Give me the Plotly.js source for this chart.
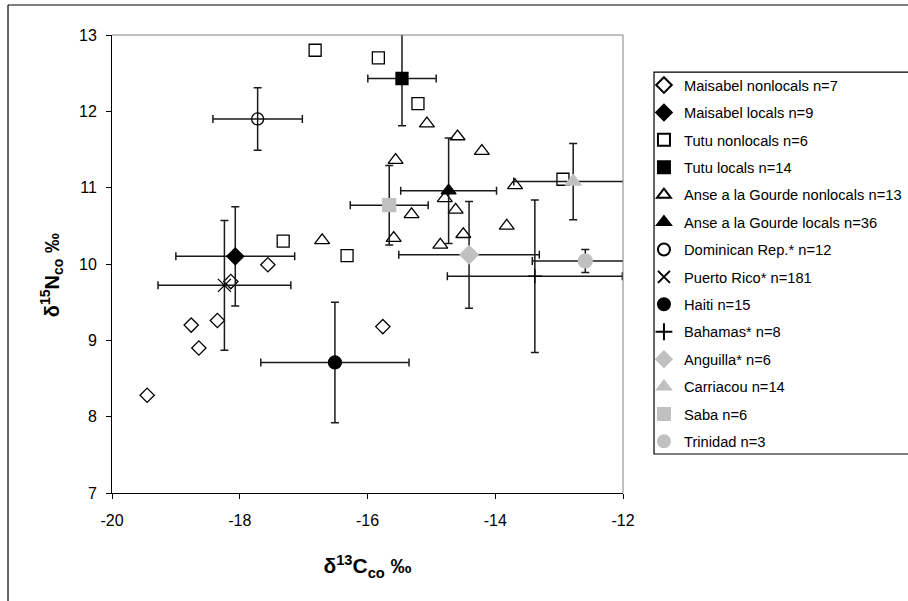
<!DOCTYPE html>
<html>
<head>
<meta charset="utf-8">
<script src="https://cdn.plot.ly/plotly-3.0.1.min.js"></script>
<style>html,body{margin:0;padding:0;background:#fff}#chart{width:908px;height:601px}</style>
</head>
<body>
<div id="chart"></div>
<script>
// ---- data (delta13C, delta15N) ----
const maisabelNonX = [-19.45, -18.76, -18.64, -18.35, -18.14, -17.56, -15.76];
const maisabelNonY = [8.28, 9.20, 8.90, 9.26, 9.77, 9.99, 9.18];

const tutuNonX = [-16.82, -15.83, -15.21, -12.94, -17.32, -16.32];
const tutuNonY = [12.80, 12.70, 12.10, 11.11, 10.30, 10.11];

const anseNonX = [-15.07, -14.59, -14.21, -15.56, -13.69, -14.79, -14.62, -15.31, -15.59, -14.50, -13.82, -14.86, -16.71];
const anseNonY = [11.84, 11.67, 11.48, 11.36, 11.03, 10.86, 10.71, 10.65, 10.34, 10.39, 10.50, 10.25, 10.31];

// group means with standard deviations
const maisabelLocX = [-18.07], maisabelLocY = [10.10], maisabelLocSdX = [0.93], maisabelLocSdY = [0.65];
const tutuLocX = [-15.46], tutuLocY = [12.43], tutuLocSdX = [0.535], tutuLocSdY = [0.62];
const anseLocX = [-14.73], anseLocY = [10.96], anseLocSdX = [0.75], anseLocSdY = [0.69];
const domRepX = [-17.72], domRepY = [11.90], domRepSdX = [0.70], domRepSdY = [0.41];
const puertoRicoX = [-18.24], puertoRicoY = [9.72], puertoRicoSdX = [1.04], puertoRicoSdY = [0.85];
const haitiX = [-16.51], haitiY = [8.71], haitiSdX = [1.16], haitiSdY = [0.79];
const bahamasX = [-13.38], bahamasY = [9.84], bahamasSdX = [1.37], bahamasSdY = [1.00];
const anguillaX = [-14.41], anguillaY = [10.12], anguillaSdX = [1.10], anguillaSdY = [0.70];
const carriacouX = [-12.78], carriacouY = [11.08], carriacouSdX = [0.93], carriacouSdY = [0.50];
const sabaX = [-15.66], sabaY = [10.77], sabaSdX = [0.61], sabaSdY = [0.52];
const trinidadX = [-12.59], trinidadY = [10.04], trinidadSdX = [0.83], trinidadSdY = [0.15];

const seriesNames = [
  'Maisabel nonlocals n=7', 'Maisabel locals n=9', 'Tutu nonlocals n=6', 'Tutu locals n=14',
  'Anse a la Gourde nonlocals n=13', 'Anse a la Gourde locals n=36', 'Dominican Rep.* n=12',
  'Puerto Rico* n=181', 'Haiti n=15', 'Bahamas* n=8', 'Anguilla* n=6', 'Carriacou n=14',
  'Saba n=6', 'Trinidad n=3'
];

// tick labels (hyphen-minus as in the original)
const xTickVals = [-20, -18, -16, -14, -12];
const xTickText = ['-20', '-18', '-16', '-14', '-12'];
const yTickVals = [7, 8, 9, 10, 11, 12, 13];
const yTickText = ['7', '8', '9', '10', '11', '12', '13'];

const BLACK = '#000000', GRAY = '#c0c0c0', ERR = '#1a1a1a';

function errs(sdx, sdy) {
  return {
    error_x: {type: 'data', array: sdx, visible: true, color: ERR, thickness: 1.5, width: 4},
    error_y: {type: 'data', array: sdy, visible: true, color: ERR, thickness: 1.5, width: 4}
  };
}
function tr(i, x, y, symbol, size, color, extra) {
  return Object.assign({
    type: 'scatter', mode: 'markers', name: seriesNames[i], x: x, y: y,
    legendgroup: 'g' + i, cliponaxis: false,
    marker: {symbol: symbol, size: size, color: color, line: {color: color, width: 1.3}}
  }, extra || {});
}

const traces = [
  tr(0, maisabelNonX, maisabelNonY, 'diamond-open', 11, BLACK),
  tr(1, maisabelLocX, maisabelLocY, 'diamond', 13, BLACK, errs(maisabelLocSdX, maisabelLocSdY)),
  tr(2, tutuNonX, tutuNonY, 'square-open', 12, BLACK),
  tr(3, tutuLocX, tutuLocY, 'square', 12, BLACK, errs(tutuLocSdX, tutuLocSdY)),
  tr(4, anseNonX, anseNonY, 'triangle-up-open', 13, BLACK),
  tr(5, anseLocX, anseLocY, 'triangle-up', 13, BLACK, errs(anseLocSdX, anseLocSdY)),
  tr(6, domRepX, domRepY, 'circle-open', 12, BLACK, errs(domRepSdX, domRepSdY)),
  tr(7, puertoRicoX, puertoRicoY, 'x-thin-open', 13, BLACK, errs(puertoRicoSdX, puertoRicoSdY)),
  tr(8, haitiX, haitiY, 'circle', 13, BLACK, errs(haitiSdX, haitiSdY)),
  tr(9, bahamasX, bahamasY, 'cross-thin-open', 10, BLACK, errs(bahamasSdX, bahamasSdY)),
  tr(10, anguillaX, anguillaY, 'diamond', 14, GRAY, errs(anguillaSdX, anguillaSdY)),
  tr(11, carriacouX, carriacouY, 'triangle-up', 14, GRAY, errs(carriacouSdX, carriacouSdY)),
  tr(12, sabaX, sabaY, 'square', 13, GRAY, errs(sabaSdX, sabaSdY)),
  tr(13, trinidadX, trinidadY, 'circle', 14, GRAY, errs(trinidadSdX, trinidadSdY))
];

const FONT = 'Arial, "Liberation Sans", sans-serif';
const NB = '\u00a0';

const layout = {
  width: 908, height: 601,
  paper_bgcolor: '#ffffff', plot_bgcolor: '#ffffff',
  margin: {l: 112, r: 285, t: 35, b: 108, autoexpand: false},
  font: {family: FONT, color: '#000', size: 16},
  showlegend: true,
  legend: {
    x: 1.041, y: 0.9258, xanchor: 'left', yanchor: 'top',
    borderwidth: 0, bgcolor: 'rgba(0,0,0,0)',
    font: {family: FONT, size: 14.7, color: '#000'},
    itemsizing: 'constant', tracegroupgap: 5.3, itemwidth: 30
  },
  xaxis: {
    range: [-20, -12], tickvals: xTickVals, ticktext: xTickText,
    showgrid: false, zeroline: false, showline: true, linecolor: '#000', linewidth: 1,
    ticks: 'outside', ticklen: 5, tickcolor: '#000', tickwidth: 1,
    tickfont: {family: FONT, size: 16}, ticklabelstandoff: 8,
    title: {text: '<b>δ<sup>13</sup>C<sub>co</sub> ‰</b>', font: {family: FONT, size: 21}, standoff: 30}
  },
  yaxis: {
    range: [7, 13], tickvals: yTickVals, ticktext: yTickText,
    showgrid: false, zeroline: false, showline: true, linecolor: '#000', linewidth: 1,
    ticks: 'outside', ticklen: 5, tickcolor: '#000', tickwidth: 1,
    tickfont: {family: FONT, size: 16}, ticklabelstandoff: 6,
    title: {text: '<b>δ<sup>15</sup>N<sub>co</sub> ‰' + NB + NB + NB + NB + '</b>', font: {family: FONT, size: 20}, standoff: 14}
  },
  shapes: [
    {type: 'line', xref: 'paper', yref: 'paper', x0: 0, x1: 1, y0: 1, y1: 1, line: {color: '#808080', width: 1}},
    {type: 'line', xref: 'paper', yref: 'paper', x0: 1, x1: 1, y0: 0, y1: 1, line: {color: '#808080', width: 1}},
    {type: 'line', xref: 'paper', yref: 'paper', x0: -0.2035, x1: -0.2035, y0: -0.5, y1: 1.0655, line: {color: '#000', width: 1.2}},
    {type: 'line', xref: 'paper', yref: 'paper', x0: -0.2035, x1: 2, y0: 1.0655, y1: 1.0655, line: {color: '#000', width: 1.2}},
    {type: 'rect', xref: 'paper', yref: 'paper', x0: 1.0607, x1: 2, y0: 0.0852, y1: 0.919, line: {color: '#000', width: 1.2}}
  ]
};

Plotly.newPlot('chart', traces, layout, {staticPlot: true, displayModeBar: false});
</script>
</body>
</html>
